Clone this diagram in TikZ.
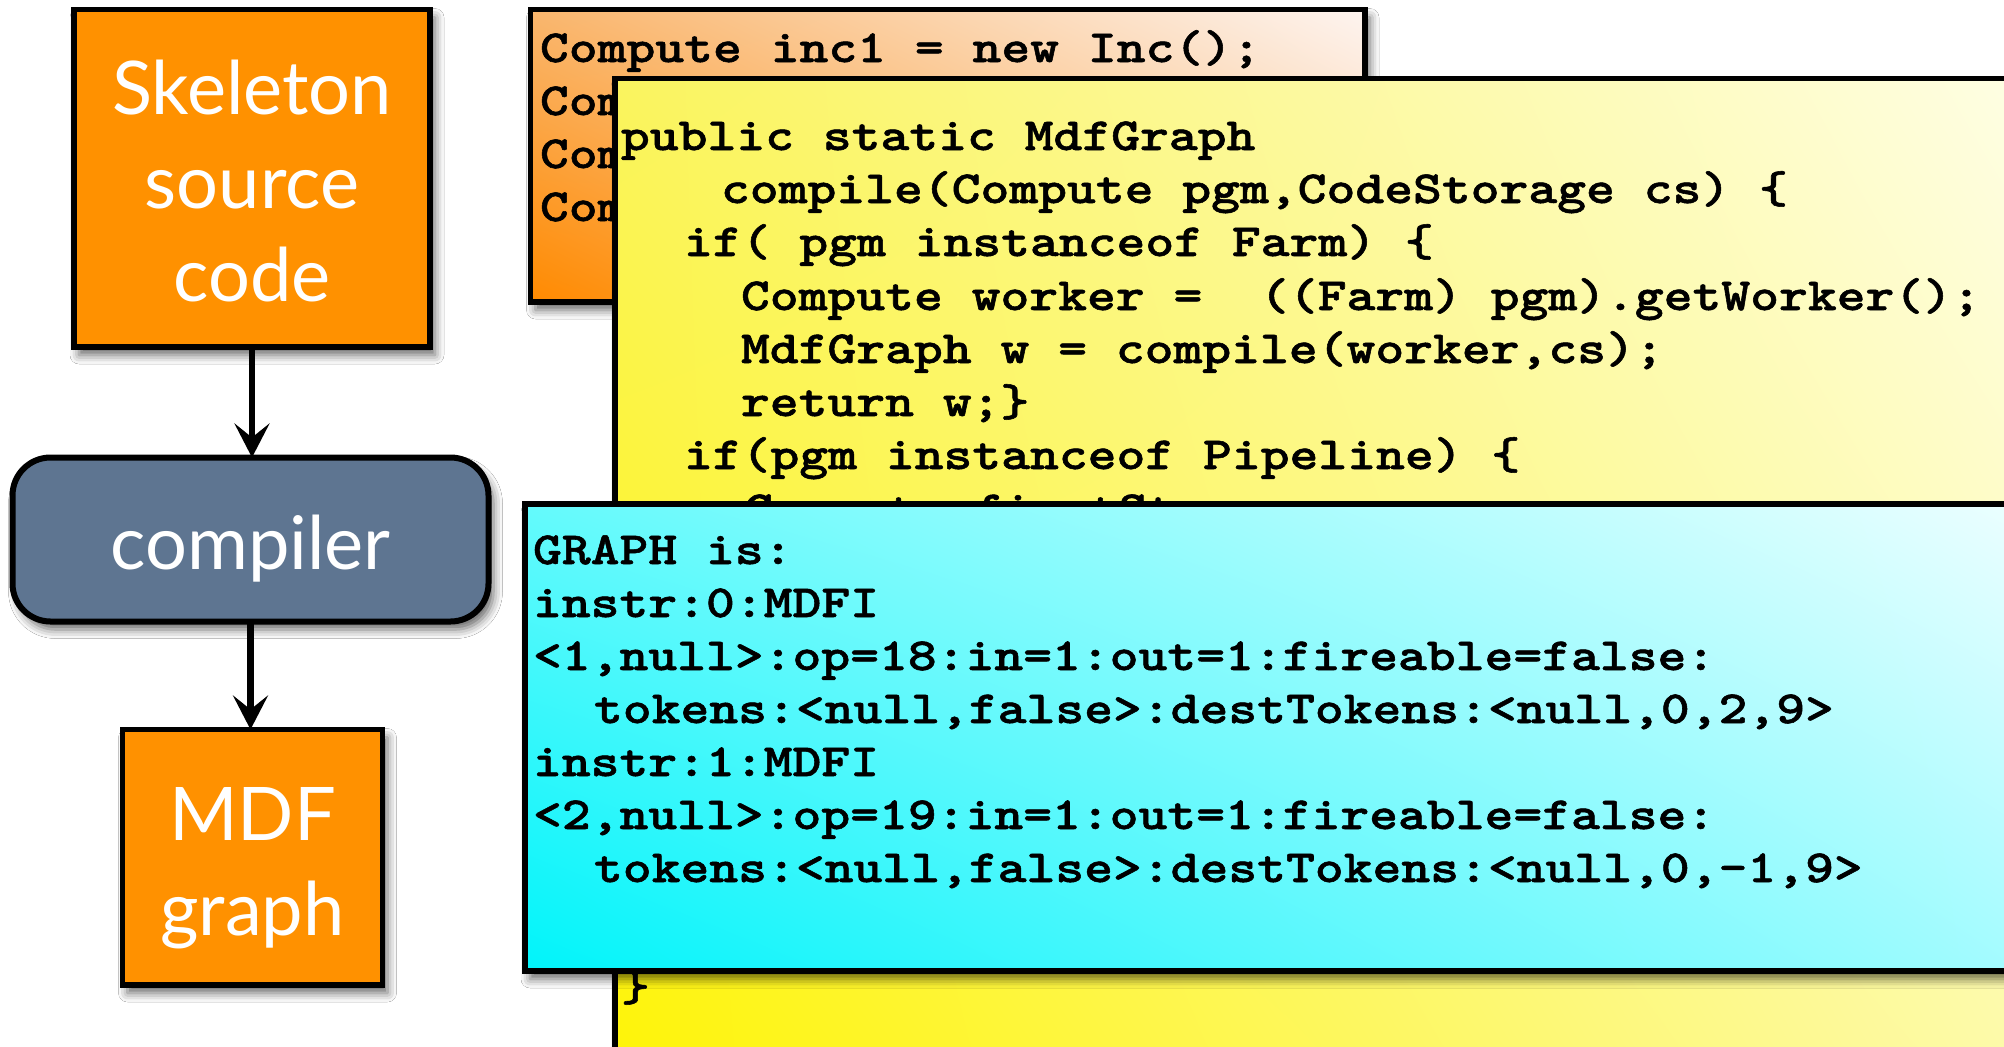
\documentclass[tikz,border=0pt]{standalone}
\usepackage{fontspec}
\usetikzlibrary{arrows.meta,shadows.blur,shadings}

\newfontfamily\labelfont{Lato}
\newfontfamily\codefont{lmmonolt10-bold.otf}[FakeStretch=1.194,FakeBold=1.2]

\definecolor{stageorange}{RGB}{255,145,0}
\definecolor{stageslate}{RGB}{94,117,145}

\begin{document}
\begin{tikzpicture}[x=0.5pt,y=-0.5pt,
  softshadow/.style={blur shadow={shadow xshift=2.5pt,shadow yshift=-4pt,
      shadow blur radius=4.5pt,shadow opacity=60}},
  stagebox/.style={draw=black,line width=2.7pt,inner sep=0pt,outer sep=0pt,
      anchor=north west,softshadow,text=white,align=center,
      font=\labelfont\fontsize{37}{47}\selectfont},
  panel/.style={draw=black,line width=2.75pt,inner sep=0pt,outer sep=0pt,
      anchor=north west,softshadow},
  codeline/.style={anchor=base west,inner sep=0pt,outer sep=0pt,
      font=\codefont\fontsize{23}{26.6}\selectfont},
  flow/.style={line width=3.3pt,-{Stealth[length=17pt,width=17.5pt,inset=7pt]}}]

\useasboundingbox (0,0) rectangle (2004,1046);
\clip (0,0) rectangle (2004,1046);
\fill[white] (0,0) rectangle (2004,1046);

% ---------- compilation flow ----------
\node[stagebox,fill=stageorange,minimum width=178pt,minimum height=168.75pt,
      font=\labelfont\fontsize{37}{46.75}\selectfont]
  (skel) at (74,9.5) {\rule{0pt}{30pt}Skeleton\\source\\code};
\node[stagebox,fill=stageslate,rounded corners=19pt,line width=3pt,
      minimum width=238pt,minimum height=82pt,text height=29.5pt,text depth=0pt]
  (comp) at (12.5,457.5) {compiler};
\node[stagebox,fill=stageorange,minimum width=130pt,minimum height=127.75pt,
      font=\labelfont\fontsize{37}{47.5}\selectfont]
  (mdf) at (122.5,729.5) {\rule{0pt}{30.5pt}MDF\\\smash{graph}};

\draw[flow] (skel.south) -- (skel.south |- comp.north);
\draw[flow] (comp.south) -- (comp.south |- mdf.north);

% ---------- skeleton program ----------
\node[panel,minimum width=417.25pt,minimum height=146.25pt,
      lower left={rgb,255:red,255;green,138;blue,0},
      upper left={rgb,255:red,249;green,182;blue,110},
      upper right={rgb,255:red,253;green,244;blue,240},
      lower right={rgb,255:red,251;green,200;blue,150}]
  (prog) at (530.5,9.5) {};
\node[codeline] (p1) at (540,62)  {Compute inc1 = new Inc();};
\node[codeline] (p2) at (540,115) {Com};
\node[codeline] (p3) at (540,168) {Com};
\node[codeline] (p4) at (540,221) {Com};

% ---------- compiler source ----------
\node[panel,minimum width=767.5pt,minimum height=535.75pt,
      lower left={rgb,255:red,255;green,244;blue,0},
      upper left={rgb,255:red,250;green,244;blue,95},
      upper right={rgb,255:red,255;green,255;blue,240},
      lower right={rgb,255:red,252;green,250;blue,180}]
  (src) at (615,78.5) {};
\node[codeline] (s1) at (621,150) {public static MdfGraph};
\node[codeline] (s2) at (721,203) {compile(Compute pgm,CodeStorage cs) \{};
\node[codeline] (s3) at (684,256) {if( pgm instanceof Farm) \{};
\node[codeline] (s4) at (741,310) {Compute worker =\ \ ((Farm) pgm).getWorker();};
\node[codeline] (s5) at (741,363) {MdfGraph w = compile(worker,cs);};
\node[codeline] (s6) at (741,416) {return w;\}};
\node[codeline] (s7) at (684,469) {if(pgm instanceof Pipeline) \{};
\node[codeline] (s8) at (744,523) {Compute firstStage};
\node[codeline] (s9) at (621,1001) {\}};

% ---------- resulting graph ----------
\node[panel,minimum width=797.5pt,minimum height=233.5pt,
      lower left={rgb,255:red,0;green,244;blue,250},
      upper left={rgb,255:red,100;green,250;blue,252},
      upper right={rgb,255:red,245;green,255;blue,255},
      lower right={rgb,255:red,175;green,252;blue,255}]
  (graph) at (525,504) {};
\node[codeline] (g1) at (533,564)   {GRAPH is:};
\node[codeline] (g2) at (533,617) {instr:0:MDFI};
\node[codeline] (g3) at (533,670) {<1,null>:op=18:in=1:out=1:fireable=false:};
\node[codeline] (g4) at (594,723)   {tokens:<null,false>:destTokens:<null,0,2,9>};
\node[codeline] (g5) at (533,776)   {instr:1:MDFI};
\node[codeline] (g6) at (533,829)   {<2,null>:op=19:in=1:out=1:fireable=false:};
\node[codeline] (g7) at (594,882)   {tokens:<null,false>:destTokens:<null,0,-1,9>};
\end{tikzpicture}
\end{document}
